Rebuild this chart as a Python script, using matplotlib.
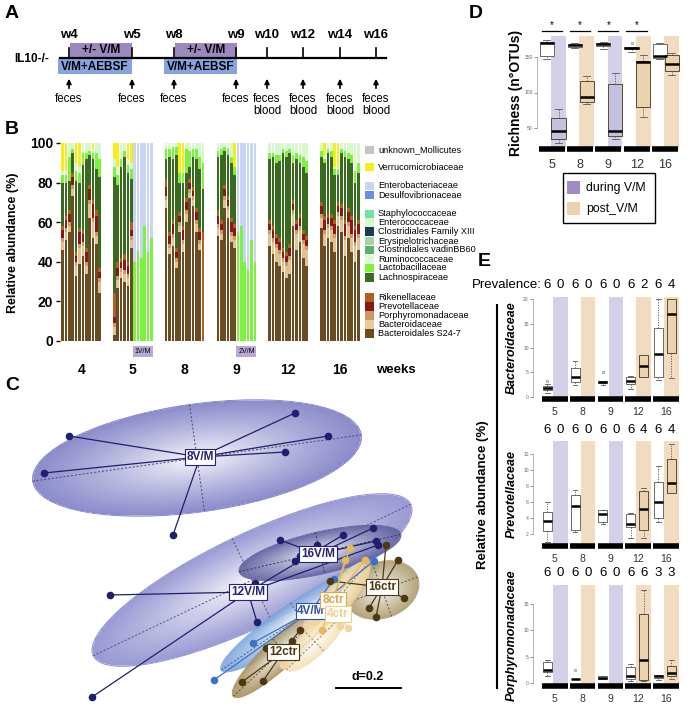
import numpy as np
import matplotlib.pyplot as plt
import matplotlib.transforms as mtransforms
from matplotlib.patches import Rectangle, Ellipse

W, H = 689, 721
plt.rcParams["font.family"] = ["Liberation Sans", "DejaVu Sans"]

# ---------------- A: sampling schedule
a_weeks = ["w4", "w5", "w8", "w9", "w10", "w12", "w14", "w16"]
a_samples = ["feces", "feces", "feces", "feces",
             "feces\nblood", "feces\nblood", "feces\nblood", "feces\nblood"]

# ---------------- B: relative abundance per mouse (6 weeks x 12 mice)
b_weeks = ["4", "5", "8", "9", "12", "16"]
s24_7 = [46, 51, 55, 73, 33, 39, 43, 34, 62, 52, 49, 24,
         3, 27, 32, 30, 28, 47, 0, 0, 0, 0, 0, 0,
         67, 44, 48, 37, 55, 45, 60, 72, 68, 55, 46, 0,
         53, 51, 67, 62, 50, 47, 0, 0, 0, 0, 0, 0,
         48, 44, 40, 38, 35, 32, 34, 58, 46, 50, 42, 38,
         57, 48, 52, 50, 45, 58, 55, 43, 52, 45, 40, 46]
bacteroidaceae = [4, 4, 3, 4, 5, 8, 5, 4, 7, 8, 4, 6,
                  4, 4, 3, 4, 4, 4, 0, 0, 0, 0, 0, 0,
                  4, 3, 4, 3, 3, 4, 4, 3, 3, 4, 3, 0,
                  4, 3, 4, 4, 3, 4, 0, 0, 0, 0, 0, 0,
                  6, 6, 7, 6, 5, 6, 7, 6, 8, 6, 7, 8,
                  5, 6, 5, 6, 7, 5, 6, 8, 6, 7, 8, 6]
porphyromonadaceae = [2] * 12 + [2] * 6 + [0] * 6 + [2] * 11 + [0] + [2] * 6 + [0] * 6 + [2] * 24
prevotellaceae = [4, 4, 4, 4, 3, 6, 4, 5, 6, 7, 8, 3,
                  3, 4, 3, 5, 4, 3, 0, 0, 0, 0, 0, 0,
                  5, 4, 5, 3, 3, 5, 4, 3, 3, 4, 4, 0,
                  4, 3, 4, 3, 5, 4, 0, 0, 0, 0, 0, 0,
                  3, 4, 3, 4, 3, 3, 4, 3, 3, 4, 3, 3,
                  4, 5, 3, 4, 5, 3, 4, 6, 5, 7, 6, 5]
rikenellaceae = [2, 2, 2, 2, 2, 2, 2, 2, 2, 2, 3, 2,
                 12, 3, 2, 3, 2, 4, 0, 0, 0, 0, 0, 0,
                 4, 2, 2, 2, 2, 2, 2, 2, 2, 2, 2, 55,
                 3, 2, 2, 2, 2, 2, 0, 0, 0, 0, 0, 0,
                 2, 2, 2, 2, 2, 2, 2, 2, 2, 2, 2, 2,
                 2, 2, 2, 2, 2, 2, 2, 2, 2, 2, 2, 2]
lachnospiraceae = [22, 17, 15, 10, 36, 23, 33, 45, 15, 21, 21, 46,
                   59, 39, 46, 49, 45, 22, 0, 0, 0, 0, 0, 0,
                   10, 38, 31, 47, 15, 22, 13, 6, 15, 25, 30, 22,
                   27, 33, 17, 21, 28, 25, 0, 0, 0, 0, 0, 0,
                   31, 35, 36, 39, 48, 48, 46, 19, 31, 26, 32, 32,
                   23, 27, 31, 29, 23, 14, 26, 32, 25, 27, 22, 24]
lactobacillaceae = [4, 4, 12, 2, 5, 5, 6, 3, 2, 3, 8, 9,
                    5, 5, 4, 3, 4, 5, 40, 46, 42, 58, 45, 52,
                    5, 4, 6, 4, 5, 5, 12, 8, 4, 5, 6, 13,
                    3, 3, 2, 3, 3, 4, 55, 58, 40, 36, 51, 40,
                    3, 2, 4, 3, 2, 3, 2, 4, 3, 4, 5, 6,
                    3, 2, 2, 3, 3, 3, 2, 3, 3, 4, 6, 5]
enterobacteriaceae = [0] * 12 + [0] * 6 + [60, 54, 58, 42, 55, 48] + [0] * 12 + \
                     [0] * 6 + [45, 42, 60, 64, 49, 60] + [0] * 24
verrucomicrobiaceae = [14, 14, 0, 0, 10, 12, 0, 0, 0, 3, 0, 0,
                       8, 12, 0, 0, 8, 10, 0, 0, 0, 0, 0, 0,
                       0, 0, 0, 0, 15, 15, 0, 0, 0, 0, 0, 0,
                       0, 0, 0, 0, 0, 12, 0, 0, 0, 0, 0, 0,
                       0, 0, 0, 0, 0, 0, 0, 0, 0, 0, 0, 0,
                       0, 6, 0, 0, 12, 12, 0, 0, 0, 0, 0, 0]

legend_b = [("unknown_Mollicutes", "#c4c4c4"), ("Verrucomicrobiaceae", "#f6ee1c"),
            ("Enterobacteriaceae", "#c9d5f5"), ("Desulfovibrionaceae", "#6b8fe0"),
            ("Staphylococcaceae", "#72e2a2"), ("Enterococcaceae", "#d9f9cc"),
            ("Clostridiales Family XIII", "#1d3b52"), ("Erysipelotrichaceae", "#a9d2a2"),
            ("Clostridiales vadinBB60", "#58b174"), ("Ruminococcaceae", "#ddfad4"),
            ("Lactobacillaceae", "#7cf23e"), ("Lachnospiraceae", "#386b1e"),
            ("Rikenellaceae", "#b35e1c"), ("Prevotellaceae", "#8c1616"),
            ("Porphyromonadaceae", "#c99a62"), ("Bacteroidaceae", "#ecc996"),
            ("Bacteroidales S24-7", "#6b4c22")]
legend_b_y = [150, 167, 186, 195, 214, 222.5, 231.5, 241, 250, 259, 268, 277.5,
              297.5, 306.5, 315.5, 324.5, 333.5]

# ---------------- C: ordination scores (image units), one star per group
c_labels = ["8V/M", "12V/M", "16V/M", "4V/M", "16ctr", "12ctr", "8ctr", "4ctr"]
c_centers = [(200, 457), (248, 592), (318, 554), (311, 611), (382, 587), (283, 652), (333, 600), (338, 614)]
c_points = [
    [(69, 436), (44, 473), (295, 413), (328, 436), (285, 452), (173, 535)],
    [(110, 595), (92, 697), (257, 622), (255, 583), (343, 535), (378, 545)],
    [(280, 540), (295, 561), (300, 556), (317, 545), (373, 528), (376, 541)],
    [(214, 680), (253, 643), (334, 579), (374, 561)],
    [(330, 581), (369, 608), (376, 617), (386, 545), (398, 560), (404, 598)],
    [(242, 682), (263, 681), (266, 648), (292, 641), (300, 630)],
    [(350, 548), (365, 560), (345, 560), (322, 630)],
    [(283, 665), (315, 622), (340, 626), (348, 628)],
]
# ellipse: centre x, centre y, semi-axis a, semi-axis b, angle
c_ellipses = [(197, 458, 166, 54, -8), (252, 580, 176, 46, -25.5), (320, 553, 83, 21, -13),
              (300, 617, 95, 17, -34), (382, 590, 38, 28, -20), (283, 650, 68, 15, -43),
              (335, 602, 52, 14, -50), (315, 642, 40, 13, -44)]
c_edge = ["#7e7ec6", "#8e8ed0", "#5f5fa0", "#7aa4dc", "#ab9a6c", "#a88f5c", "#efd49a", "#f4e0b8"]
c_point_col = ["#1f1f6e", "#1f1f6e", "#1f1f6e", "#3b72c9", "#4d3812", "#4d3812", "#e8b95a", "#f3d49a"]
c_text_col = ["#23237a", "#23237a", "#23237a", "#2d4fb0", "#4d3812", "#4d3812", "#d9a84e", "#efcf8c"]

# ---------------- D: richness, [whislo, q1, med, q3, whishi]
d_weeks = ["5", "8", "9", "12", "16"]
rich_ctrl = [[147, 151, 170, 172, 174], [163, 165, 167, 168, 170], [162, 166, 168, 170, 172],
             [158, 162, 163, 165, 165], [147, 149, 151.5, 168, 170]]
rich_ctrl_fliers = [[], [], [], [170], []]
rich_trt = [[28, 34, 45, 64, 76], [84, 86, 94, 116, 123], [34, 38.7, 45, 111.5, 127],
            [66, 80, 143.5, 145, 153], [125, 130, 141, 153, 156]]
significant = [True, True, True, True, False]
phase = ["during", "post", "during", "post", "post"]

# ---------------- E: family abundance
bact_ctrl = [[0.7, 1.3, 1.8, 2.2, 2.5], [2.3, 3, 4, 5.8, 7.3], [2.3, 2.7, 3, 3.3, 3.3],
             [1.5, 2.5, 3.2, 4, 4.2], [3.4, 4, 8.7, 14.2, 20]]
bact_ctrl_fliers = [[3.2], [], [5], [], []]
bact_trt = [None, None, None, [4, 4, 6.2, 8.5, 8.5], [3.8, 9, 17, 20, 20]]
bact_prev = [6, 0, 6, 0, 6, 0, 6, 2, 6, 4]

prev_ctrl = [[1, 2.4, 3.7, 4.8, 6.1], [2.3, 2.6, 5.5, 6.9, 7.5], [3.3, 3.6, 4.6, 5, 5.1],
             [1.6, 2.9, 3.3, 4.5, 4.7], [3.5, 4, 6, 8.5, 10.5]]
prev_ctrl_fliers = [[], [], [], [], []]
prev_trt = [None, None, None, [1.5, 2.6, 5.2, 7.4, 7.8], [7.2, 7.2, 8.4, 11.4, 13.3]]
prev_prev = [6, 0, 6, 0, 6, 0, 6, 4, 6, 4]

porph_ctrl = [[1.3, 2.1, 2.5, 4, 4.5], [0.8, 0.8, 0.8, 0.8, 0.8], [0.9, 0.9, 1.0, 1.3, 1.3],
              [0.5, 0.8, 1.3, 3, 3.6], [0.7, 1, 1.3, 1.5, 1.6]]
porph_ctrl_fliers = [[], [2.5], [], [], []]
porph_trt = [None, None, None, [0.5, 0.6, 4.4, 13.2, 17.6], [0.8, 1.3, 2, 3.2, 4.5]]
porph_prev = [6, 0, 6, 0, 6, 0, 6, 6, 3, 3]

BAND = {"during": "#d3d0e8", "post": "#f1dcc2"}
BOXFILL = {"during": "#c4c0e0", "post": "#ecd3b0"}

fig = plt.figure(figsize=(W / 100, H / 100), dpi=100)


def px_axes(x0, y0, x1, y1):
    return fig.add_axes([x0 / W, 1 - y1 / H, (x1 - x0) / W, (y1 - y0) / H])


canvas = px_axes(0, 0, W, H)
canvas.axis("off")

# panel letters
for letter, x, y in [("A", 12, 14), ("B", 12, 129), ("C", 12, 386), ("D", 476, 13), ("E", 484, 262)]:
    canvas.text(x, y, letter, ha="center", va="center", fontsize=14, fontweight="bold")

# ---------------- A
a_x = [69, 132, 174, 236, 267, 303, 340, 376]
canvas.plot([60, 386], [58, 58], color="black", lw=1.6, zorder=3)
for x0, x1 in [(70, 132), (175, 237)]:
    canvas.add_patch(Rectangle((x0, 43), x1 - x0, 14, fc="#9d88bd", ec="none", zorder=2))
    canvas.text((x0 + x1) / 2, 50, "+/- V/M", ha="center", va="center", fontsize=8.5, fontweight="bold", zorder=4)
for x0, x1 in [(58, 132), (164, 237)]:
    canvas.add_patch(Rectangle((x0, 59), x1 - x0, 15, fc="#86a3df", ec="none", zorder=2))
    canvas.text((x0 + x1) / 2, 67, "V/M+AEBSF", ha="center", va="center", fontsize=8.5, fontweight="bold", zorder=4)
canvas.text(14, 59, "IL10-/-", ha="left", va="center", fontsize=8.5, fontweight="bold")
for x, wk, smp in zip(a_x, a_weeks, a_samples):
    canvas.plot([x, x], [48, 58], color="black", lw=1.2, zorder=3)
    canvas.text(x, 35, wk, ha="center", va="center", fontsize=9.5, fontweight="bold")
    canvas.annotate("", xy=(x, 76), xytext=(x, 91),
                    arrowprops=dict(arrowstyle="-|>", color="black", lw=1.2, mutation_scale=7))
    canvas.text(x, 93, smp, ha="center", va="top", fontsize=8.3, linespacing=0.95)

# ---------------- B
axb = px_axes(60, 143, 361, 341)
xpos = [g * 15.4 + j + 0.5 for g in range(6) for j in range(12)]
stack = [(s24_7, "#6b4c22"), (bacteroidaceae, "#e6c08c"), (porphyromonadaceae, "#c99a62"),
         (prevotellaceae, "#8c1616"), (rikenellaceae, "#b35e1c"), (lachnospiraceae, "#386b1e"),
         (lactobacillaceae, "#7cf23e")]
bottom = np.zeros(72)
for vals, col in stack:
    axb.bar(xpos, vals, bottom=bottom, width=0.78, color=col, edgecolor="none")
    bottom += np.array(vals)
rest = 100 - bottom - np.array(enterobacteriaceae) - np.array(verrucomicrobiaceae)
rest = np.clip(rest, 0, None)
axb.bar(xpos, rest, bottom=bottom, width=0.78, color="#d7f7cc", edgecolor="none")
bottom += rest
axb.bar(xpos, enterobacteriaceae, bottom=bottom, width=0.78, color="#c9d5f5", edgecolor="none")
bottom += np.array(enterobacteriaceae)
axb.bar(xpos, verrucomicrobiaceae, bottom=bottom, width=0.78, color="#f6ee1c", edgecolor="none")
axb.set_xlim(-0.3, 89.3)
axb.set_ylim(0, 100)
for s in axb.spines.values():
    s.set_visible(False)
axb.set_xticks([])
axb.set_yticks(range(0, 101, 20))
axb.set_yticklabels([str(v) for v in range(0, 101, 20)], fontsize=10, fontweight="bold")
axb.tick_params(axis="y", length=3, width=1, pad=2)
for g, wk in enumerate(b_weeks):
    axb.text(g * 15.4 + 6, -14.6, wk, ha="center", va="center", fontsize=10, fontweight="bold", clip_on=False)
for g, lab in [(1, "1V/M"), (3, "2V/M")]:
    axb.text(g * 15.4 + 9, -5.2, lab, ha="center", va="center", fontsize=5, clip_on=False,
             bbox=dict(boxstyle="square,pad=0.25", fc="#b9a9d9", ec="none"))
canvas.text(396, 370, "weeks", ha="center", va="center", fontsize=9.5, fontweight="bold")
canvas.text(13, 243, "Relative abundance (%)", rotation=90, ha="center", va="center",
            fontsize=9, fontweight="bold")
for (name, col), y in zip(legend_b, legend_b_y):
    canvas.add_patch(Rectangle((365, y - 4.2), 9, 8.4, fc=col, ec="none"))
    canvas.text(378, y, name, ha="left", va="center", fontsize=6.6)

# ---------------- C
def shaded_ellipse(ax, cx, cy, a, b, ang, edge, z):
    th = np.radians(ang)
    r_max = max(a, b)
    xs = np.linspace(cx - r_max, cx + r_max, 300)
    ys = np.linspace(cy - r_max, cy + r_max, 300)
    X, Y = np.meshgrid(xs, ys)
    u = (X - cx) * np.cos(th) + (Y - cy) * np.sin(th)
    v = -(X - cx) * np.sin(th) + (Y - cy) * np.cos(th)
    r = np.sqrt((u / a) ** 2 + (v / b) ** 2)
    t = np.clip(r, 0, 1) ** 0.8
    ec = np.array(plt.matplotlib.colors.to_rgb(edge))
    img = np.ones((300, 300, 4))
    for k in range(3):
        img[..., k] = 1 - t * (1 - ec[k])
    img[..., 3] = np.where(r <= 1, 0.9, 0)
    im = ax.imshow(img, extent=(cx - r_max, cx + r_max, cy + r_max, cy - r_max), origin="upper",
                   aspect="auto", zorder=z, interpolation="bilinear")
    ell = Ellipse((cx, cy), 2 * a, 2 * b, angle=ang, transform=ax.transData)
    im.set_clip_path(ell)
    ax.add_patch(Ellipse((cx, cy), 2 * a, 2 * b, angle=ang, fc="none", ec=edge, lw=0.6, zorder=z))
    # dashed principal axes
    dark = tuple(ec * 0.55)
    ax.plot([cx - a * np.cos(th), cx + a * np.cos(th)], [cy - a * np.sin(th), cy + a * np.sin(th)],
            ls=(0, (2, 2)), color=dark, lw=0.7, zorder=z + 0.1)
    ax.plot([cx + b * np.sin(th), cx - b * np.sin(th)], [cy - b * np.cos(th), cy + b * np.cos(th)],
            ls=(0, (2, 2)), color=dark, lw=0.7, zorder=z + 0.1)


for k, (cx, cy, a, b, ang) in enumerate(c_ellipses):
    shaded_ellipse(canvas, cx, cy, a, b, ang, c_edge[k], 1 + k * 0.2)

for k, lab in enumerate(c_labels):
    cx, cy = c_centers[k]
    for px, py in c_points[k]:
        canvas.plot([cx, px], [cy, py], color=c_point_col[k], lw=0.9, zorder=4)
    canvas.scatter([p[0] for p in c_points[k]], [p[1] for p in c_points[k]], s=20,
                   color=c_point_col[k], zorder=5)
for k, lab in enumerate(c_labels):
    cx, cy = c_centers[k]
    canvas.text(cx, cy, lab, ha="center", va="center", fontsize=8.5, fontweight="bold",
                color=c_text_col[k], zorder=6,
                bbox=dict(boxstyle="square,pad=0.15", fc="white", ec=c_text_col[k], lw=0.8))
canvas.plot([336, 401], [688, 688], color="black", lw=1.4)
canvas.text(368, 677, "d=0.2", ha="center", va="center", fontsize=9, fontweight="bold")


# ---------------- D and E helpers
def box_panel(ax, ctrl, ctrl_fl, trt, ctrl_pos, trt_pos, wid):
    for i in range(5):
        ax.axvspan(i + trt_pos - 0.26, i + trt_pos + 0.26, color=BAND[phase[i]], lw=0, zorder=0)
    st = []
    for row, fl in zip(ctrl, ctrl_fl):
        st.append(dict(whislo=row[0], q1=row[1], med=row[2], q3=row[3], whishi=row[4], fliers=fl))
    common = dict(widths=wid, patch_artist=True, showfliers=True,
                  whiskerprops=dict(ls=(0, (1.5, 1.5)), lw=0.6, color="#555555"),
                  capprops=dict(lw=0.6, color="#555555"),
                  medianprops=dict(lw=1.8, color="black"),
                  flierprops=dict(marker="o", ms=1.5, mfc="none", mec="#555555", mew=0.4))
    ax.bxp(st, positions=[i + ctrl_pos for i in range(5)],
           boxprops=dict(lw=0.6, ec="#555555", fc="white"), **common)
    pos, st2, fills = [], [], []
    for i, row in enumerate(trt):
        if row is None:
            continue
        pos.append(i + trt_pos)
        st2.append(dict(whislo=row[0], q1=row[1], med=row[2], q3=row[3], whishi=row[4], fliers=[]))
        fills.append(BOXFILL[phase[i]])
    bp2 = ax.bxp(st2, positions=pos, boxprops=dict(lw=0.7, ec="#5a4a30"), **common)
    for patch, fc in zip(bp2["boxes"], fills):
        patch.set_facecolor(fc)
    trans = mtransforms.blended_transform_factory(ax.transData, ax.transAxes)
    for i in range(5):
        ax.plot([i - 0.46, i + 0.46], [0, 0], color="black", lw=4, solid_capstyle="butt",
                transform=trans, clip_on=False, zorder=5)
    for s in ["top", "right", "bottom"]:
        ax.spines[s].set_visible(False)
    ax.spines["left"].set_color("#999999")
    ax.spines["left"].set_linewidth(0.5)
    ax.tick_params(axis="y", labelsize=3.6, length=2, width=0.5, colors="#666666", pad=1)
    ax.tick_params(axis="x", length=0)
    ax.set_xticks(range(5))
    return trans


# D
axd = px_axes(537, 36, 683, 149)
transd = box_panel(axd, rich_ctrl, rich_ctrl_fliers, rich_trt, -0.18, 0.24, 0.5)
axd.set_xlim(-0.52, 4.64)
axd.set_ylim(20, 180)
axd.set_yticks([50, 100, 150])
axd.spines["left"].set_bounds(50, 150)
axd.set_xticklabels(d_weeks, fontsize=9, color="#333333")
axd.tick_params(axis="x", pad=7)
for i, sig in enumerate(significant):
    if sig:
        axd.plot([i - 0.36, i + 0.36], [1.045, 1.045], color="black", lw=0.9, transform=transd, clip_on=False)
        axd.text(i, 1.1, "*", ha="center", va="center", fontsize=7, transform=transd)
canvas.text(516, 93, "Richness (n°OTUs)", rotation=90, ha="center", va="center", fontsize=10, fontweight="bold")
canvas.add_patch(Rectangle((563, 173), 92, 50, fc="white", ec="black", lw=1))
canvas.add_patch(Rectangle((567, 181), 13, 13, fc="#a08cc4", ec="none"))
canvas.text(586, 188, "during V/M", ha="left", va="center", fontsize=8.8)
canvas.add_patch(Rectangle((567, 202), 13, 13, fc="#ecd1ae", ec="none"))
canvas.text(586, 209, "post_V/M", ha="left", va="center", fontsize=8.8)

# E
e_specs = [
    ((533, 297, 685, 399), bact_ctrl, bact_ctrl_fliers, bact_trt, bact_prev, (-0.5, 20.5), [0, 5, 10, 15, 20],
     "Bacteroidaceae", 285),
    ((533, 441, 685, 546), prev_ctrl, prev_ctrl_fliers, prev_trt, prev_prev, (0.54, 13.66), [2, 4, 6, 8, 10, 12],
     "Prevotellaceae", 430),
    ((533, 585, 685, 686), porph_ctrl, porph_ctrl_fliers, porph_trt, porph_prev, (-0.5, 18.6), [0, 5, 10, 15],
     "Porphyromonadaceae", 573),
]
for box, ctrl, fl, trt, prevalence, ylim, yt, fam, prev_y in e_specs:
    ax = px_axes(*box)
    trans = box_panel(ax, ctrl, fl, trt, -0.27, 0.2, 0.33)
    ax.set_xlim(-0.79, 4.69)
    ax.set_ylim(*ylim)
    ax.set_yticks(yt)
    ax.spines["left"].set_bounds(yt[0], yt[-1])
    ax.set_xticklabels(d_weeks, fontsize=7.5, color="#333333")
    ax.tick_params(axis="x", pad=6)
    frac = 1 + (box[1] - prev_y) / (box[3] - box[1])
    for i in range(5):
        ax.text(i - 0.27, frac, str(prevalence[2 * i]), ha="center", va="center", fontsize=9.5,
                transform=trans, clip_on=False)
        ax.text(i + 0.2, frac, str(prevalence[2 * i + 1]), ha="center", va="center", fontsize=9.5,
                transform=trans, clip_on=False)
    canvas.text(512, (box[1] + box[3]) / 2, fam, rotation=90, ha="center", va="center",
                fontsize=9, fontweight="bold", style="italic")
canvas.text(542, 285, "Prevalence:", ha="right", va="center", fontsize=9.5)
canvas.plot([497, 497], [305, 688], color="black", lw=1.5)
canvas.text(483, 495, "Relative abundance (%)", rotation=90, ha="center", va="center",
            fontsize=9.5, fontweight="bold")

canvas.set_xlim(0, W)
canvas.set_ylim(H, 0)
fig.savefig("out.png", dpi=100)
